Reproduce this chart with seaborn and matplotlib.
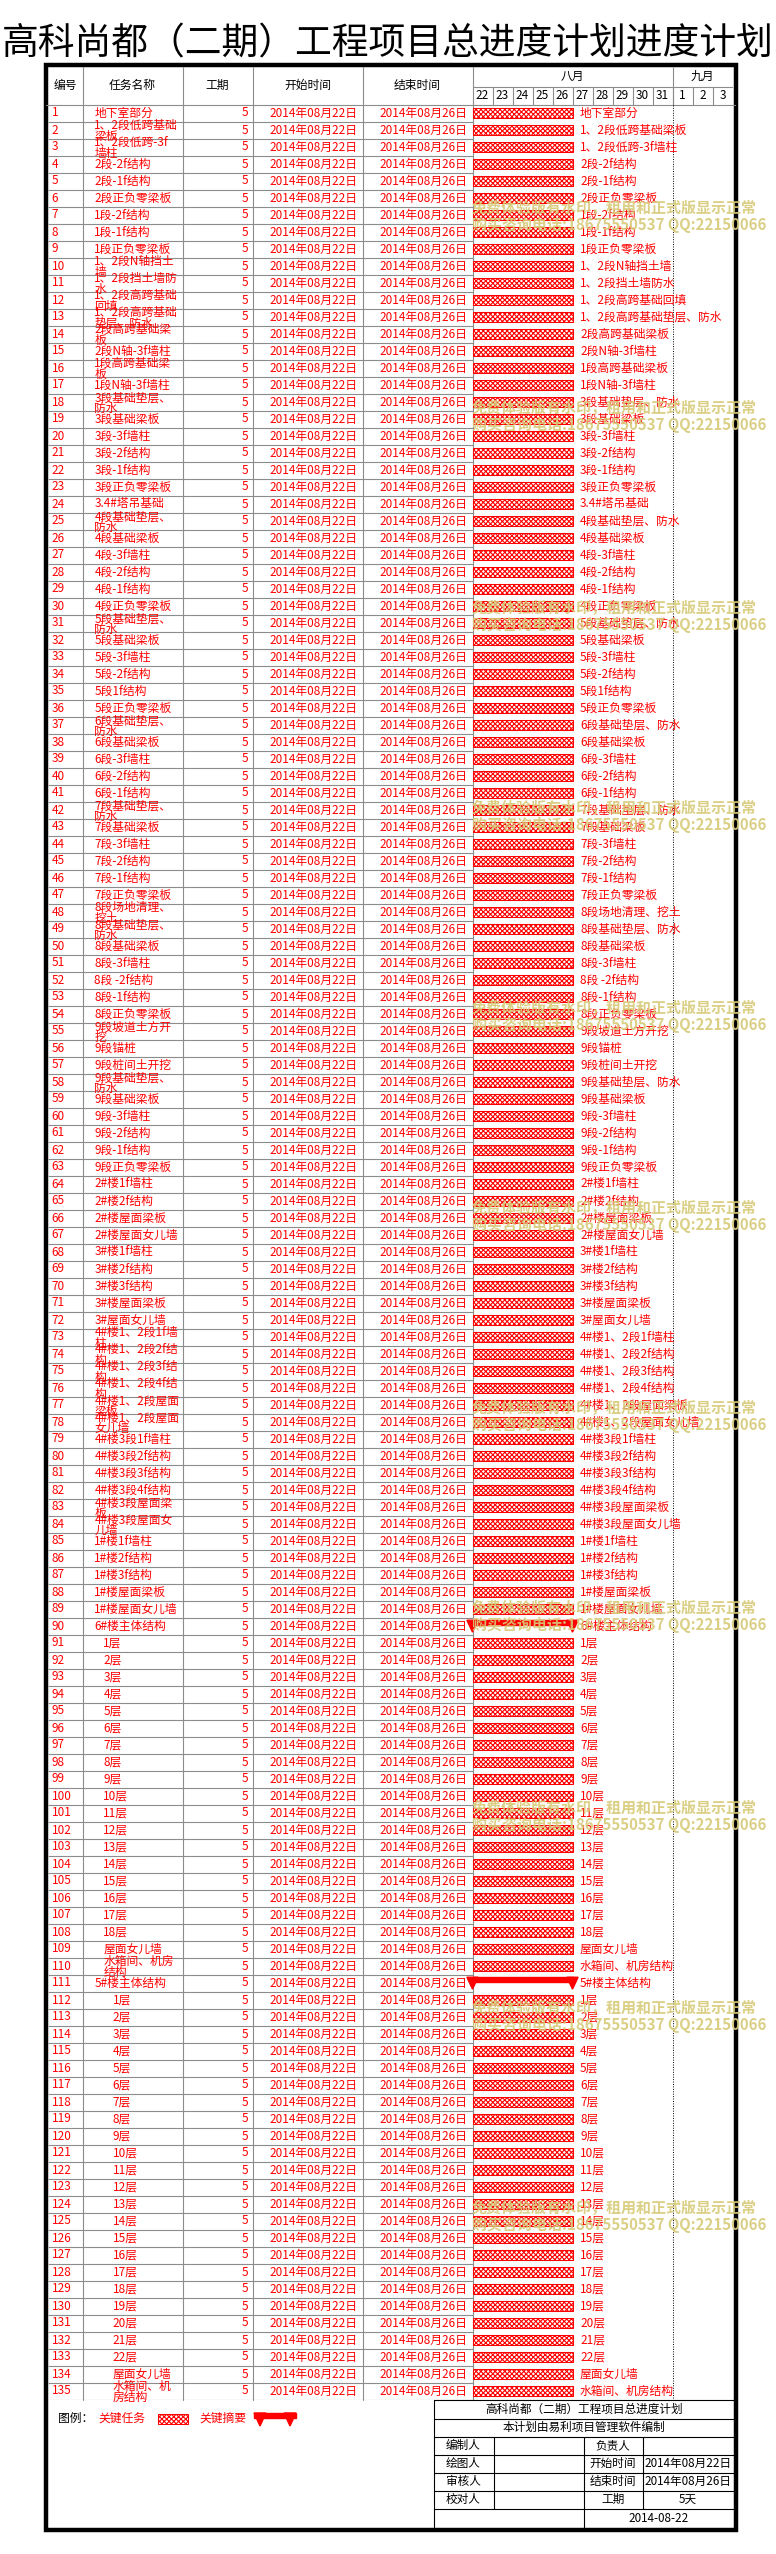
import numpy as np
import pandas as pd
import seaborn as sns
import matplotlib.pyplot as plt
import matplotlib.dates as mdates
from matplotlib.patches import Rectangle, Polygon

# 图表数据
title = '高科尚都（二期）工程项目总进度计划进度计划'
col_headers = ['编号', '任务名称', '工期', '开始时间', '结束时间']
task_names = [
    '地下室部分', '1、2段低跨基础梁板', '1、2段低跨-3f墙柱', '2段-2f结构', '2段-1f结构',
    '2段正负零梁板', '1段-2f结构', '1段-1f结构', '1段正负零梁板', '1、2段N轴挡土墙',
    '1、2段挡土墙防水', '1、2段高跨基础回填', '1、2段高跨基础垫层、防水', '2段高跨基础梁板', '2段N轴-3f墙柱',
    '1段高跨基础梁板', '1段N轴-3f墙柱', '3段基础垫层、防水', '3段基础梁板', '3段-3f墙柱',
    '3段-2f结构', '3段-1f结构', '3段正负零梁板', '3.4#塔吊基础', '4段基础垫层、防水',
    '4段基础梁板', '4段-3f墙柱', '4段-2f结构', '4段-1f结构', '4段正负零梁板',
    '5段基础垫层、防水', '5段基础梁板', '5段-3f墙柱', '5段-2f结构', '5段1f结构',
    '5段正负零梁板', '6段基础垫层、防水', '6段基础梁板', '6段-3f墙柱', '6段-2f结构',
    '6段-1f结构', '7段基础垫层、防水', '7段基础梁板', '7段-3f墙柱', '7段-2f结构',
    '7段-1f结构', '7段正负零梁板', '8段场地清理、挖土', '8段基础垫层、防水', '8段基础梁板',
    '8段-3f墙柱', '8段 -2f结构', '8段-1f结构', '8段正负零梁板', '9段坡道土方开挖',
    '9段锚桩', '9段桩间土开挖', '9段基础垫层、防水', '9段基础梁板', '9段-3f墙柱',
    '9段-2f结构', '9段-1f结构', '9段正负零梁板', '2#楼1f墙柱', '2#楼2f结构',
    '2#楼屋面梁板', '2#楼屋面女儿墙', '3#楼1f墙柱', '3#楼2f结构', '3#楼3f结构',
    '3#楼屋面梁板', '3#屋面女儿墙', '4#楼1、2段1f墙柱', '4#楼1、2段2f结构', '4#楼1、2段3f结构',
    '4#楼1、2段4f结构', '4#楼1、2段屋面梁板', '4#楼1、2段屋面女儿墙', '4#楼3段1f墙柱', '4#楼3段2f结构',
    '4#楼3段3f结构', '4#楼3段4f结构', '4#楼3段屋面梁板', '4#楼3段屋面女儿墙', '1#楼1f墙柱',
    '1#楼2f结构', '1#楼3f结构', '1#楼屋面梁板', '1#楼屋面女儿墙', '6#楼主体结构',
    '1层', '2层', '3层', '4层', '5层', '6层', '7层', '8层', '9层', '10层',
    '11层', '12层', '13层', '14层', '15层', '16层', '17层', '18层',
    '屋面女儿墙', '水箱间、机房结构', '5#楼主体结构',
    '1层', '2层', '3层', '4层', '5层', '6层', '7层', '8层', '9层', '10层',
    '11层', '12层', '13层', '14层', '15层', '16层', '17层', '18层', '19层', '20层',
    '21层', '22层', '屋面女儿墙', '水箱间、机房结构',
]
n_tasks = len(task_names)
task_ids = list(range(1, n_tasks + 1))
durations = [5] * n_tasks
start_dates = ['2014年08月22日'] * n_tasks
end_dates = ['2014年08月26日'] * n_tasks
summary_ids = [90, 111]
sub_groups = {90: (91, 110), 111: (112, 135)}  # 摘要任务 -> 子任务编号范围

chart_start = '2014-08-22'
months = ['八月', '九月']
month_days = [10, 3]
day_labels = ['22', '23', '24', '25', '26', '27', '28', '29', '30', '31', '1', '2', '3']

footer_title = '高科尚都（二期）工程项目总进度计划'
footer_note = '本计划由易利项目管理软件编制'
footer_rows = [['编制人', '', '负责人', ''],
               ['绘图人', '', '开始时间', '2014年08月22日'],
               ['审核人', '', '结束时间', '2014年08月26日'],
               ['校对人', '', '工期', '5天']]
footer_date = '2014-08-22'
legend_label = '图例：'
legend_items = ['关键任务', '关键摘要']
watermark = ['免费体验版有水印，租用和正式版显示正常', '购买咨询电话:18675550537 QQ:22150066']

df = pd.DataFrame({'id': task_ids, 'name': task_names, 'dur': durations,
                   'start': start_dates, 'end': end_dates})
df['start_dt'] = pd.to_datetime(df['start'], format='%Y年%m月%d日')
df['end_dt'] = pd.to_datetime(df['end'], format='%Y年%m月%d日')
df['left'] = mdates.date2num(df['start_dt'])
df['width'] = (df['end_dt'] - df['start_dt']).dt.days + 1
df['level'] = 0
for s, (a, b) in sub_groups.items():
    df.loc[df['id'].between(a, b), 'level'] = 1 if s == 90 else 2

# 样式
sns.set_theme(style='white')
plt.rcParams['font.family'] = ['Noto Sans CJK SC', 'DejaVu Sans']
plt.rcParams['hatch.color'] = 'red'
plt.rcParams['hatch.linewidth'] = 0.8

W, H = 776, 2554
TOP, ROW = 104.5, 17
BOT = TOP + n_tasks * ROW
HDR_TOP, HDR_MID = 66.5, 86.5
GX0, GX1 = 472.5, 732.5
FS = 8.5
GRAY = '#8c8c8c'
RED = '#ff0000'


def box(x0, y0, x1, y1):
    return [x0 / W, 1 - y1 / H, (x1 - x0) / W, (y1 - y0) / H]


def char_w(c):
    return 6 if ord(c) < 128 else 12


def wrap(s, limit):
    lines, cur, w = [], '', 0
    for c in s:
        if w + char_w(c) > limit and cur:
            lines.append(cur)
            cur, w = '', 0
        cur += c
        w += char_w(c)
    lines.append(cur)
    return lines


fig = plt.figure(figsize=(W / 100, H / 100), dpi=100, facecolor='white')

# 底层画布 (像素坐标)
cv = fig.add_axes([0, 0, 1, 1])
cv.set_xlim(0, W)
cv.set_ylim(H, 0)
cv.axis('off')

cv.text(W / 2, 44, title, fontsize=26.5, ha='center', va='center', color='black')

# 表头
hdr_x = [65.3, 132.5, 217.5, 307.5, 417.5]
for x, t in zip(hdr_x, col_headers):
    cv.text(x, (HDR_TOP + TOP) / 2, t, fontsize=FS, ha='center', va='center', color='black')
for x in [82.5, 182.5, 252.5, 362.5, 472.5]:
    cv.plot([x, x], [HDR_TOP, BOT], color=GRAY, lw=0.8)
cv.plot([46, 735], [TOP, TOP], color=GRAY, lw=0.8)

# 任务表格
tb = fig.add_axes(box(48, TOP, GX0, BOT))
tb.set_xlim(48, GX0)
tb.set_ylim(n_tasks, 0)
tb.axis('off')
tb.hlines(np.arange(1, n_tasks + 1), 48, GX0, color=GRAY, lw=0.8)

name_x = {0: 94.3, 1: 103.3, 2: 112.5}
for i, r in df.iterrows():
    kw = dict(fontsize=FS, color=RED, va='center', clip_on=False)
    tb.text(51.7, i + 0.5, str(r['id']), ha='left', **kw)
    x = name_x[r['level']]
    lines = wrap(r['name'], 181.5 - x)
    if len(lines) == 1:
        tb.text(x, i + 0.5, lines[0], ha='left', **kw)
    else:
        tb.text(x, i + 0.25, lines[0], ha='left', **kw)
        tb.text(x, i + 0.87, lines[1], ha='left', **kw)
    tb.text(248, i + 0.5, str(r['dur']), ha='right', **kw)
    tb.text(357.5, i + 0.5, r['start'], ha='right', **kw)
    tb.text(467, i + 0.5, r['end'], ha='right', **kw)

# 甘特图
x0 = mdates.date2num(pd.Timestamp(chart_start))
ndays = sum(month_days)
gt = fig.add_axes(box(GX0, TOP, GX1, BOT))
gt.set_xlim(x0, x0 + ndays)
gt.set_ylim(n_tasks, 0)
gt.axis('off')

reg = df[~df['id'].isin(summary_ids)]
gt.barh(reg.index + 0.5, reg['width'], left=reg['left'], height=0.55,
        color='white', edgecolor=RED, linewidth=0.75, hatch='xxxxxxx')

for i, r in df[df['id'].isin(summary_ids)].iterrows():
    s, e = r['left'], r['left'] + r['width']
    gt.add_patch(Rectangle((s, i + 0.16), r['width'], 0.3, color=RED, clip_on=False))
    for c in (s, e):
        gt.add_patch(Polygon([(c - 0.28, i + 0.16), (c + 0.28, i + 0.16), (c, i + 0.86)],
                             closed=True, color=RED, clip_on=False))

for i, r in df.iterrows():
    gt.text(r['left'] + r['width'] + 0.375, i + 0.5, r['name'], fontsize=FS, color=RED,
            ha='left', va='center', clip_on=False)

month_starts = x0 + np.cumsum([0] + month_days)
gt.vlines(month_starts[1:-1], 0, n_tasks, color='black', lw=0.7, linestyles=(0, (1, 1.5)))

# 时间刻度表头
hd = fig.add_axes(box(GX0, HDR_TOP, GX1, TOP))
hd.set_xlim(x0, x0 + ndays)
hd.set_ylim(1, 0)
hd.axis('off')
mid = (HDR_MID - HDR_TOP) / (TOP - HDR_TOP)
hd.hlines(mid, x0, x0 + ndays, color=GRAY, lw=0.8)
hd.vlines(x0 + np.arange(1, ndays), mid, 1, color=GRAY, lw=0.8)
hd.vlines(month_starts[1:-1], 0, 1, color=GRAY, lw=0.8)
for k, lab in enumerate(day_labels):
    hd.text(x0 + k + 0.5, (mid + 1) / 2, lab, fontsize=FS, ha='center', va='center', color='black')
for m, a, b in zip(months, month_starts[:-1], month_starts[1:]):
    hd.text((a + b) / 2, mid / 2, m, fontsize=FS, ha='center', va='center', color='black')

# 底部信息栏
FY = [BOT, 2418.5, 2436.5, 2454.5, 2472.5, 2490.5, 2508.5, 2529]
cv.plot([433.5, 735], [BOT, BOT], color='black', lw=0.8)
for y in FY[1:-1]:
    cv.plot([433.5, 735], [y, y], color='black', lw=0.8)
cv.plot([433.5, 433.5], [BOT, 2529], color='black', lw=0.8)
cv.plot([583.5, 583.5], [FY[2], 2529], color='black', lw=0.8)
for x in [493.5, 642.5]:
    cv.plot([x, x], [FY[2], FY[6]], color='black', lw=0.8)

fkw = dict(fontsize=8.4, color='black', va='center')
cv.text(584, (FY[0] + FY[1]) / 2, footer_title, ha='center', **fkw)
cv.text(584, (FY[1] + FY[2]) / 2, footer_note, ha='center', **fkw)
for k, row in enumerate(footer_rows):
    yc = (FY[2 + k] + FY[3 + k]) / 2
    cv.text(446, yc, row[0], ha='left', **fkw)
    cv.text(538.5, yc, row[1], ha='center', **fkw)
    cv.text(613, yc, row[2], ha='center', **fkw)
    cv.text(688, yc, row[3], ha='center', **fkw)
cv.text(659, (FY[6] + FY[7]) / 2, footer_date, ha='center', **fkw)

# 图例
cv.text(57.6, 2418.5, legend_label, fontsize=FS, color='black', ha='left', va='center')
cv.text(98.5, 2418.5, legend_items[0], fontsize=FS, color=RED, ha='left', va='center')
cv.add_patch(Rectangle((157.6, 2414), 30.4, 10, facecolor='white', edgecolor=RED,
                       lw=0.75, hatch='xxxxxxx'))
cv.text(199.5, 2418.5, legend_items[1], fontsize=FS, color=RED, ha='left', va='center')
cv.add_patch(Rectangle((254, 2413), 42, 5, color=RED))
cv.add_patch(Polygon([(254, 2413), (266, 2413), (260, 2426)], closed=True, color=RED))
cv.add_patch(Polygon([(284, 2413), (296, 2413), (290, 2426)], closed=True, color=RED))

# 外框
cv.add_patch(Rectangle((46, 65), 689.5, 2465, fill=False, edgecolor='black', lw=3.2))

# 水印
for k in range(11):
    yw = 208 + 200 * k
    for j, t in enumerate(watermark):
        fig.text(472 / W, 1 - (yw + 17 * j) / H, t, fontsize=10.8, fontweight='bold',
                 color='#d6ca78', alpha=0.9, ha='left', va='center', zorder=10)

fig.savefig('out.png', dpi=100)
